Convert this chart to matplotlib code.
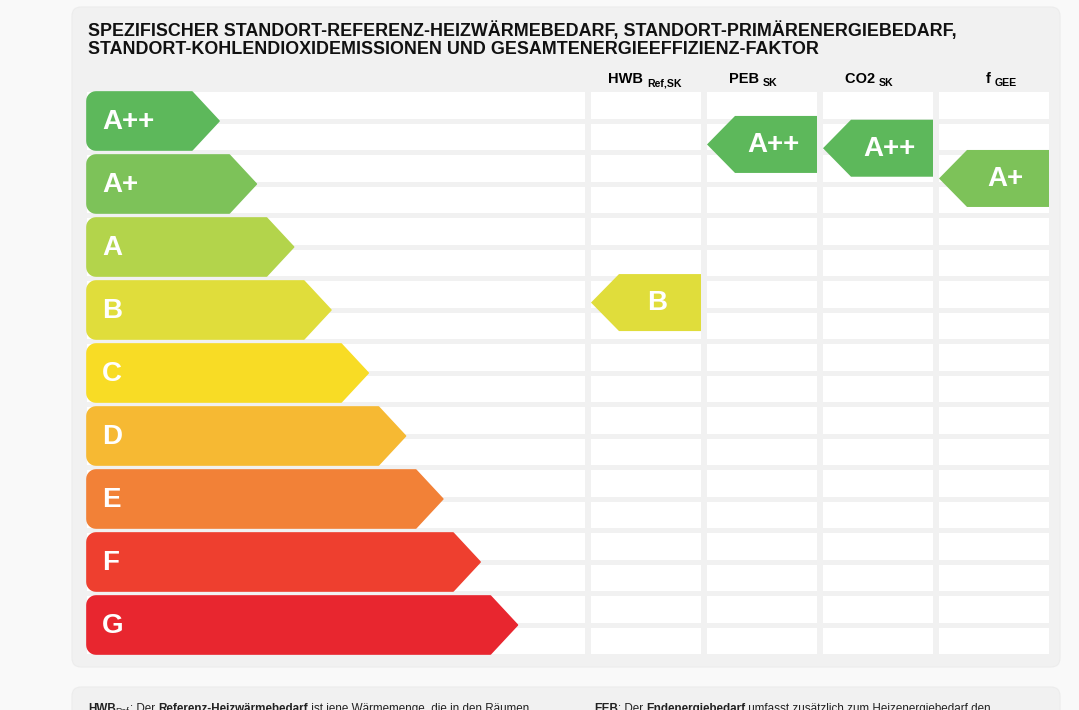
import numpy as np
import matplotlib
matplotlib.use("Agg")
import matplotlib.pyplot as plt
from matplotlib.patches import Polygon, FancyBboxPatch, Rectangle

plt.rcParams['font.family'] = ['Liberation Sans', 'DejaVu Sans']

# ------------------- data -------------------
classes = ['A++', 'A+', 'A', 'B', 'C', 'D', 'E', 'F', 'G']
class_colors = ['#5db85b', '#7dc259', '#b3d44b', '#e0dd3b', '#f8dc25',
                '#f6b933', '#f28137', '#ee3f2f', '#e8262f']

indicators = ['HWB', 'PEB', 'CO2', 'f']
indicator_subs = ['Ref,SK', 'SK', 'SK', 'GEE']
indicator_class = ['B', 'A++', 'A++', 'A+']
# position on the class scale (0 = top of A++, 1 row per class)
indicator_pos = [2.89, 0.38, 0.44, 0.92]

title_lines = ['SPEZIFISCHER STANDORT-REFERENZ-HEIZWÄRMEBEDARF, STANDORT-PRIMÄRENERGIEBEDARF,',
               'STANDORT-KOHLENDIOXIDEMISSIONEN UND GESAMTENERGIEEFFIZIENZ-FAKTOR']

# ------------------- layout -------------------
W, H = 1079, 710
TOP = 92          # top of first row
PITCH = 63        # per class
BAR_H = 58
STRIPE_H = 26.5
STRIPE_PITCH = 31.5
LEFT = 87
LEFT_END = 585
COL_X = [591, 707, 823, 939]
COL_W = 110
TIP0 = 219
TIP_STEP = 37.3


def arrow_right(x0, x1, y0, h, tip=27, r=9, n=8):
    # rounded left corners, pointed right end (y axis points down)
    pts = []
    t1 = np.linspace(-np.pi / 2, -np.pi, n)
    pts += [(x0 + r + r * np.cos(t), y0 + r + r * np.sin(t)) for t in t1]
    t2 = np.linspace(np.pi, np.pi / 2, n)
    pts += [(x0 + r + r * np.cos(t), y0 + h - r + r * np.sin(t)) for t in t2]
    pts += [(x1 - tip, y0 + h), (x1, y0 + h / 2), (x1 - tip, y0)]
    return pts


def arrow_left(x0, x1, y0, h, tip=28):
    return [(x0, y0 + h / 2), (x0 + tip, y0 + h), (x1, y0 + h), (x1, y0), (x0 + tip, y0)]


fig = plt.figure(figsize=(W / 100, H / 100), dpi=100)
fig.patch.set_facecolor('#f9f9f9')
ax = fig.add_axes([0, 0, 1, 1])
ax.set_xlim(0, W)
ax.set_ylim(H, 0)
ax.axis('off')

# panels
ax.add_patch(FancyBboxPatch((72, 7), 988, 660, boxstyle='round,pad=0,rounding_size=9',
                            fc='#f1f1f1', ec='#ececec', lw=0.8))
ax.add_patch(FancyBboxPatch((72, 687), 988, 60, boxstyle='round,pad=0,rounding_size=9',
                            fc='#f1f1f1', ec='#ececec', lw=0.8))

# title
for i, line in enumerate(title_lines):
    ax.text(88, 31 + i * 19, line, fontsize=12.85, fontweight='bold', color='#111111',
            va='center', ha='left')

# column headers
for cx, name, sub in zip(COL_X, indicators, indicator_subs):
    xc = cx + COL_W / 2
    ax.text(xc + 1, 83, name + ' ', fontsize=10.5, fontweight='bold', va='baseline', ha='right')
    ax.text(xc + 1, 86, sub, fontsize=7.6, fontweight='bold', va='baseline', ha='left')

# white stripes
for k in range(len(classes) * 2):
    y = TOP + k * STRIPE_PITCH
    ax.add_patch(Rectangle((LEFT, y), LEFT_END - LEFT, STRIPE_H, fc='white', ec='none'))
    for cx in COL_X:
        ax.add_patch(Rectangle((cx, y), COL_W, STRIPE_H, fc='white', ec='none'))

# class arrows
for i, (c, col) in enumerate(zip(classes, class_colors)):
    y0 = TOP + i * PITCH
    tip_x = TIP0 + i * TIP_STEP
    ax.add_patch(Polygon(arrow_right(LEFT, tip_x, y0, BAR_H), closed=True, fc=col, ec=col,
                         lw=1.2, joinstyle='round'))
    ax.text(102, y0 + BAR_H / 2 + 1, c, fontsize=20, fontweight='bold', color='white',
            va='center', ha='left')

# indicator arrows
for cx, cls, pos in zip(COL_X, indicator_class, indicator_pos):
    col = class_colors[classes.index(cls)]
    y0 = TOP + pos * PITCH
    ax.add_patch(Polygon(arrow_left(cx, cx + COL_W, y0, BAR_H - 1), closed=True, fc=col, ec='none'))
    ax.text(cx + 25 + (COL_W - 28) / 2, y0 + BAR_H / 2, cls, fontsize=20, fontweight='bold',
            color='white', va='center', ha='center')

# footer text (cut off at the bottom, as in the original)
renderer = fig.canvas.get_renderer()


def rich(x, y, parts):
    for txt, bold, sub in parts:
        t = ax.text(x, y + (2 if sub else 0), txt, fontsize=6.3 if sub else 8.4,
                    fontweight='bold' if bold else 'normal', color='#222222',
                    va='baseline', ha='left')
        bb = t.get_window_extent(renderer=renderer)
        x += bb.width


rich(88, 712, [('HWB', True, False), ('Ref', False, True), (': Der ', False, False),
               ('Referenz-Heizwärmebedarf', True, False),
               (' ist jene Wärmemenge, die in den Räumen', False, False)])
rich(594, 712, [('EEB', True, False), (': Der ', False, False), ('Endenergiebedarf', True, False),
                (' umfasst zusätzlich zum Heizenergiebedarf den', False, False)])

fig.savefig('out.png', dpi=100, facecolor=fig.get_facecolor())
